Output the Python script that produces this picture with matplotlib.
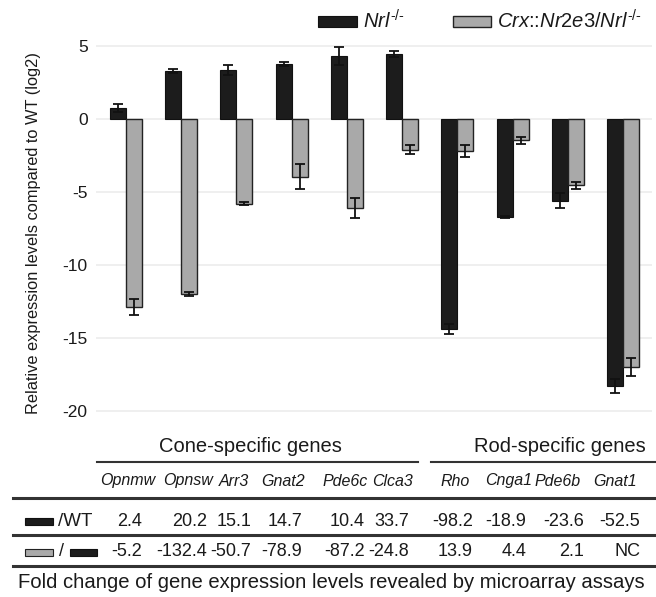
import matplotlib
matplotlib.use("Agg")
import matplotlib.pyplot as plt
from matplotlib.patches import Rectangle, Patch
from matplotlib.lines import Line2D
import numpy as np

plt.rcParams['font.family'] = ['Liberation Sans', 'DejaVu Sans']
plt.rcParams['mathtext.fontset'] = 'custom'
plt.rcParams['mathtext.rm'] = 'Liberation Sans'
plt.rcParams['mathtext.it'] = 'Liberation Sans:italic'
plt.rcParams['axes.unicode_minus'] = False

# data (log2 relative to WT)
genes = ["Opnmw", "Opnsw", "Arr3", "Gnat2", "Pde6c", "Clca3", "Rho", "Cnga1", "Pde6b", "Gnat1"]
nrl_vals = [0.75, 3.3, 3.35, 3.75, 4.3, 4.45, -14.4, -6.7, -5.6, -18.3]
nrl_err = [0.3, 0.15, 0.35, 0.15, 0.6, 0.2, 0.35, 0.05, 0.5, 0.5]
crx_vals = [-12.9, -12.0, -5.8, -3.95, -6.1, -2.1, -2.2, -1.45, -4.55, -17.0]
crx_err = [0.55, 0.15, 0.1, 0.85, 0.7, 0.3, 0.4, 0.25, 0.25, 0.6]
yticks = [5, 0, -5, -10, -15, -20]

# fold change table
fold_wt = ["2.4", "20.2", "15.1", "14.7", "10.4", "33.7", "-98.2", "-18.9", "-23.6", "-52.5"]
fold_crx = ["-5.2", "-132.4", "-50.7", "-78.9", "-87.2", "-24.8", "13.9", "4.4", "2.1", "NC"]
groups = ["Cone-specific genes", "Rod-specific genes"]

DARK = "#1c1c1c"
GRAY = "#a9a9a9"
TXT = "#1a1a1a"

W, H = 656, 597
fig = plt.figure(figsize=(W / 100, H / 100), dpi=100)


def fx(x):
    return x / W


def fy(y):
    return 1 - y / H


ax = fig.add_axes([fx(96), fy(415.4), fx(652) - fx(96), fy(41.6) - fy(415.4)])
x = np.arange(len(genes))
bw = 0.29
ax.bar(x - bw / 2, nrl_vals, bw, color=DARK, edgecolor="#111111", linewidth=0.8,
       yerr=nrl_err, capsize=3.5, error_kw=dict(ecolor="#111111", elinewidth=1.3, capthick=1.3), zorder=3)
ax.bar(x + bw / 2, crx_vals, bw, color=GRAY, edgecolor="#222222", linewidth=1.0,
       yerr=crx_err, capsize=3.5, error_kw=dict(ecolor="#111111", elinewidth=1.3, capthick=1.3), zorder=3)

ax.set_xlim(-0.543, 9.525)
ax.set_ylim(-20.3, 5.3)
ax.set_yticks(yticks)
ax.set_xticks([])
ax.yaxis.grid(True, color="#ececec", linewidth=1.2, zorder=0)
ax.set_axisbelow(True)
for s in ax.spines.values():
    s.set_visible(False)
ax.tick_params(axis="y", length=0, pad=6, labelsize=12.5, labelcolor=TXT)

fig.text(fx(34), fy(233), "Relative expression levels compared to WT (log2)", rotation=90,
         ha="center", va="center", fontsize=11.8, color=TXT)

# legend
handles = [Patch(facecolor=DARK, edgecolor="#111111", linewidth=0.8),
           Patch(facecolor=GRAY, edgecolor="#222222", linewidth=1.0)]
labels = [r"$\mathit{Nrl}^{\text{-/-}}$", r"$\mathit{Crx}$::$\mathit{Nr2e3/Nrl}^{\text{-/-}}$"]
fig.legend(handles, labels, ncol=2, frameon=False, loc="center right",
           bbox_to_anchor=(fx(650), fy(21)), fontsize=14.5, handlelength=1.9,
           handleheight=0.45, handletextpad=0.3, columnspacing=2.4, borderaxespad=0,
           labelcolor=TXT)

# table below the chart
name_x = [128, 188, 234, 283, 345, 392, 455, 509, 558, 615]
val_right = [142, 207, 251, 302, 365, 409, 473, 526, 584, 640]

fig.text(fx(250), fy(446), groups[0], ha="center", va="center", fontsize=14.5, color=TXT)
fig.text(fx(560), fy(446), groups[1], ha="center", va="center", fontsize=14.5, color=TXT)
fig.add_artist(Line2D([fx(97), fx(418)], [fy(462), fy(462)], color="#333333", lw=1.5))
fig.add_artist(Line2D([fx(431), fx(656)], [fy(462), fy(462)], color="#333333", lw=1.5))
for y in (498, 535, 566):
    fig.add_artist(Line2D([fx(13), fx(656)], [fy(y), fy(y)], color="#333333", lw=2.2))

for g, xn in zip(genes, name_x):
    fig.text(fx(xn), fy(481), g, ha="center", va="center", fontsize=11.5, style="italic", color=TXT)
for v1, v2, xr in zip(fold_wt, fold_crx, val_right):
    fig.text(fx(xr), fy(521), v1, ha="right", va="center", fontsize=13, color=TXT)
    fig.text(fx(xr), fy(552), v2, ha="right", va="center", fontsize=13, color=TXT)

# row labels with small swatches
fig.add_artist(Rectangle((fx(25), fy(525)), fx(28), fy(518) - fy(525), facecolor=DARK,
                         edgecolor="#111111", lw=0.8))
fig.text(fx(58), fy(521), "/WT", ha="left", va="center", fontsize=13.5, color=TXT)
fig.add_artist(Rectangle((fx(25), fy(556)), fx(28), fy(549) - fy(556), facecolor=GRAY,
                         edgecolor="#222222", lw=0.8))
fig.text(fx(59), fy(552), "/", ha="left", va="center", fontsize=13, color=TXT)
fig.add_artist(Rectangle((fx(70), fy(556)), fx(27), fy(549) - fy(556), facecolor=DARK,
                         edgecolor="#111111", lw=0.8))

fig.text(fx(331), fy(583), "Fold change of gene expression levels revealed by microarray assays",
         ha="center", va="center", fontsize=14.6, color=TXT)

fig.savefig("out.png", dpi=100)
